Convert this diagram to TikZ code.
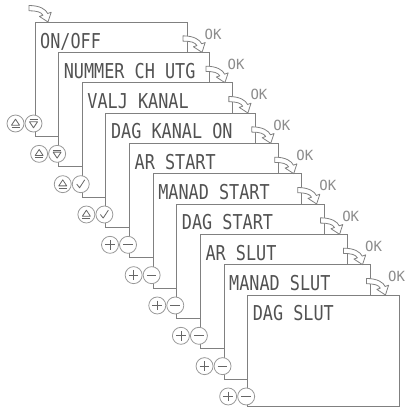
\documentclass[tikz,border=0pt]{standalone}
\usepackage{fontspec}
\usetikzlibrary{calc}
\newfontfamily\lcdfont[FakeStretch=0.82]{DejaVu Sans Mono}
\newfontfamily\okfont{DejaVu Sans Mono}
\begin{document}
\begin{tikzpicture}[x=1pt,y=-1pt,
  card/.style={draw=black!50, line width=0.9pt, fill=white, anchor=north west,
    inner sep=0pt, outer sep=0pt},
  lcdtext/.style={anchor=base west, inner sep=0pt, text=black!68,
    font=\lcdfont\fontsize{20.5}{20.5}\selectfont},
  oklabel/.style={anchor=west, inner sep=0pt, text=black!45,
    font=\okfont\fontsize{14}{14}\selectfont},
  btn/.style={circle, draw=black!40, line width=0.8pt, fill=white,
    minimum size=17pt, inner sep=0pt},
  sym/.style={draw=black!60, line width=0.8pt, line join=round},
  upbtn/.style={btn, path picture={
    \draw[sym] (path picture bounding box.center) ++(-4,1.7) -- ++(8,0) -- ++(-4,-6) -- cycle;
    \draw[sym] (path picture bounding box.center) ++(-4,3.9) -- ++(8,0);}},
  downbtn/.style={btn, path picture={
    \draw[sym] (path picture bounding box.center) ++(-4,-1.7) -- ++(8,0) -- ++(-4,6) -- cycle;
    \draw[sym] (path picture bounding box.center) ++(-4,-3.9) -- ++(8,0);}},
  checkbtn/.style={btn, path picture={
    \draw[sym] (path picture bounding box.center) ++(-4,0) -- ++(2.8,3.6) -- ++(5.2,-8);}},
  plusbtn/.style={btn, path picture={
    \draw[sym] (path picture bounding box.center) ++(-4.8,0) -- ++(9.6,0);
    \draw[sym] (path picture bounding box.center) ++(0,-4.8) -- ++(0,9.6);}},
  minusbtn/.style={btn, path picture={
    \draw[sym] (path picture bounding box.center) ++(-4.8,0) -- ++(9.6,0);}},
  arrowline/.style={draw=black!50, line width=0.8pt, fill=white, line join=round},
  okarrow/.pic={
    \draw[arrowline] (-19,-16.5) .. controls (-8,-16.5) and (-2,-12.5) .. (-0.3,-8.5)
      -- (3.2,-9.8) -- (0,0) -- (-8.6,-5.6) -- (-5.1,-6.8)
      .. controls (-7,-10) and (-11,-11.2) .. (-19,-11.2) -- cycle;}
]
\useasboundingbox (0,0) rectangle (408,408);
% cards
\foreach \i/\w/\h/\txt in {0/152/114.5/{ON/OFF},1/151.3/114.5/{NUMMER CH UTG},
  2/150.6/114.5/{VALJ KANAL},3/149.9/114.5/{DAG KANAL ON},4/149.2/114.5/{AR START},
  5/148.5/114.5/{MANAD START},6/147.8/114.5/{DAG START},7/147.1/114.5/{AR SLUT},
  8/146.4/114.5/{MANAD SLUT},9/151.3/111/{DAG SLUT}} {
  \pgfmathsetmacro\lx{35+23.63*\i}
  \pgfmathsetmacro\ty{22+30.33*\i}
  \node[card, minimum width=\w pt, minimum height=\h pt] (c\i) at (\lx,\ty) {};
  \node[lcdtext] (t\i) at ($(c\i.north west)+(5,26)$) {\txt};
}
% entry arrow
\pic at ($(c0.north west)+(13,0)$) {okarrow};
% OK arrows between cards
\foreach \i/\j in {0/1,1/2,2/3,3/4,4/5,5/6,6/7,7/8,8/9} {
  \pic at ($(c\i.north east)+(15,30.33)$) {okarrow};
  \node[oklabel] (ok\i) at ($(c\i.north east)+(17.5,12)$) {OK};
}
% buttons
\foreach \i/\lb/\rb/\dy in {0/upbtn/downbtn/13,1/upbtn/downbtn/13,2/upbtn/checkbtn/13,
  3/upbtn/checkbtn/13,4/plusbtn/minusbtn/13,5/plusbtn/minusbtn/13,6/plusbtn/minusbtn/13,
  7/plusbtn/minusbtn/13,8/plusbtn/minusbtn/13,9/plusbtn/minusbtn/9.5} {
  \node[style=\rb] (r\i) at ($(c\i.south west)+(-1.5,-\dy)$) {};
  \node[style=\lb] (l\i) at ($(r\i)+(-18,0)$) {};
}
\end{tikzpicture}
\end{document}
